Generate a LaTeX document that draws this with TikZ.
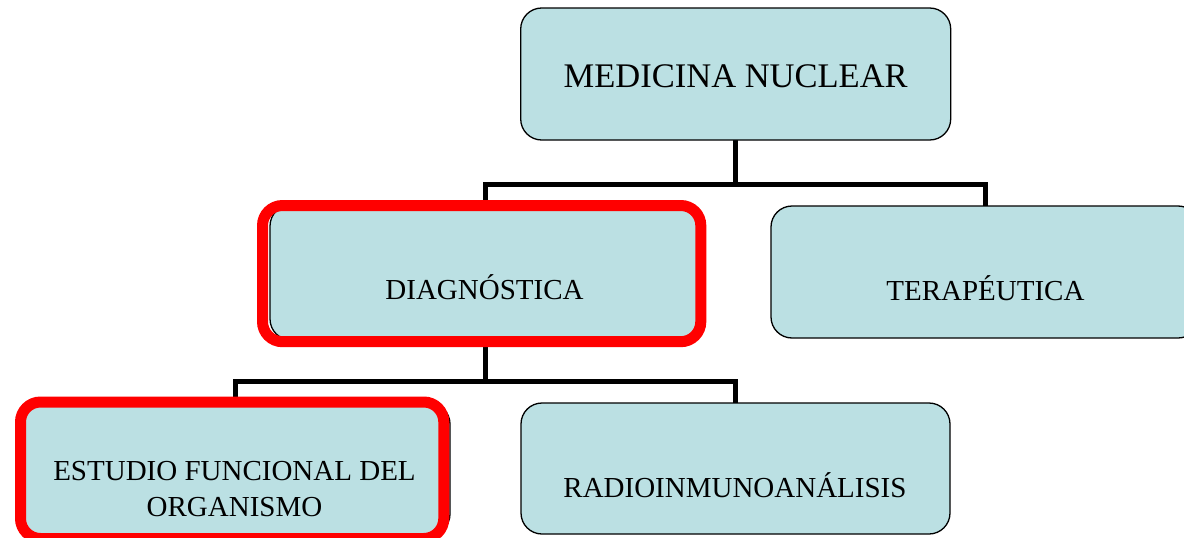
\documentclass[tikz,border=0pt]{standalone}
\usepackage{fontspec}
\setmainfont{Liberation Serif}
\definecolor{boxfill}{RGB}{187,224,227}
\definecolor{hired}{RGB}{255,0,0}
\tikzset{
  box/.style={draw=black, line width=1.3pt, fill=boxfill, rounded corners=21pt,
    inner sep=0pt, outer sep=0pt},
  conn/.style={draw=black, line width=5pt, line join=miter},
  redframe/.style={draw=hired, line width=11pt, rounded corners=20pt},
  lbl/.style={inner sep=0pt, anchor=base, text=black, font=\fontsize{29}{36}\selectfont},
  toplbl/.style={lbl, font=\fontsize{34.5}{40}\selectfont}
}
\begin{document}
\begin{tikzpicture}[x=1pt,y=-1pt]
\useasboundingbox (0,0) rectangle (1184,538);
\clip (0,0) rectangle (1184,538);
% junctions
\coordinate (j1) at (735.7,184);
\coordinate (j2) at (485,381.5);
% boxes (positions only)
\path
  (735.7,74)   node[minimum width=430pt, minimum height=132pt] (mnb) {}
  (485,272.5)  node[minimum width=430pt, minimum height=135pt] (diagb) {}
  (985,272)    node[minimum width=428pt, minimum height=132pt] (terb) {}
  (235,469)    node[minimum width=430pt, minimum height=132pt] (estb) {}
  (735.5,468.5) node[minimum width=429pt, minimum height=131pt] (radb) {};
% connectors
\draw[conn] (mnb.south) -- (j1);
\draw[conn] (diagb.north) |- (j1) -| (terb.north);
\draw[conn] (diagb.south) -- (j2);
\draw[conn] (estb.north) |- (j2) -| (radb.north);
% drawn boxes
\node[box, minimum width=430pt, minimum height=132pt] (mn) at (mnb) {};
\node[box, minimum width=430pt, minimum height=135pt] (diag) at (diagb) {};
\node[box, minimum width=428pt, minimum height=132pt] (ter) at (terb) {};
\node[box, minimum width=430pt, minimum height=132pt] (est) at (estb) {};
\node[box, minimum width=429pt, minimum height=131pt] (rad) at (radb) {};
% red highlight frames
\draw[redframe] (262.5,205.5) rectangle (700.8,341.7);
\draw[redframe] (20.5,402) rectangle (443.8,538.5);
% labels
\node[toplbl] (mnt) at (735.7,87) {MEDICINA NUCLEAR};
\node[lbl] (diagt) at (484.5,299.3) {DIAGNÓSTICA};
\node[lbl] (tert) at (985.4,300) {TERAPÉUTICA};
\node[lbl] (est1) at (234.5,480) {ESTUDIO FUNCIONAL DEL};
\node[lbl] (est2) at (234.5,516) {ORGANISMO};
\node[lbl] (radt) at (735,497.7) {RADIOINMUNOANÁLISIS};
\end{tikzpicture}
\end{document}
